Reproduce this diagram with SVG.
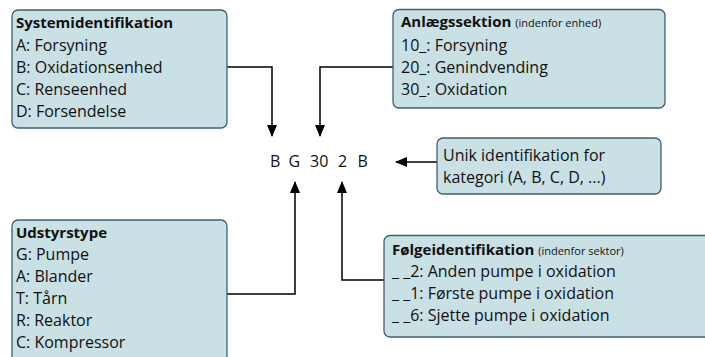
<svg xmlns="http://www.w3.org/2000/svg" width="705" height="357" viewBox="0 0 705 357">
<defs>
<marker id="ah" viewBox="0 0 12 10" refX="11" refY="5" markerWidth="12" markerHeight="10" markerUnits="userSpaceOnUse" orient="auto">
<path d="M0,0 L12,5 L0,10 Z" fill="#000"/>
</marker>
<style>
.box{fill:#c9e0e4;stroke:#3f5f72;stroke-width:1.3}
.t{font-family:"Open Sans","Noto Sans",sans-serif;font-size:16px;fill:#111}
.b{font-weight:bold;font-size:15px}
.s{font-size:11px;font-weight:normal}
.c{fill:none;stroke:#000;stroke-width:1.5}
</style>
</defs>
<rect width="705" height="357" fill="#fff"/>
<g id="connectors">
<path class="c" d="M227,67 H272 V136" marker-end="url(#ah)"/>
<path class="c" d="M393,67 H320 V136" marker-end="url(#ah)"/>
<path class="c" d="M437,162 H396" marker-end="url(#ah)"/>
<path class="c" d="M227,294 H295 V182" marker-end="url(#ah)"/>
<path class="c" d="M384,280 H342 V182" marker-end="url(#ah)"/>
</g>
<g id="system">
<rect class="box" x="12" y="10" width="215" height="118" rx="6"/>
<text class="t b" x="16" y="27.5">Systemidentifikation</text>
<text class="t" x="16" y="51">A: Forsyning</text>
<text class="t" x="16" y="73">B: Oxidationsenhed</text>
<text class="t" x="16" y="95">C: Renseenhed</text>
<text class="t" x="16" y="117">D: Forsendelse</text>
</g>
<g id="anlaeg">
<rect class="box" x="393" y="9.5" width="272" height="98.5" rx="6"/>
<text class="t b" x="401" y="27">Anlægssektion <tspan class="s">(indenfor enhed)</tspan></text>
<text class="t" x="401" y="50.5">10_: Forsyning</text>
<text class="t" x="401" y="72.5">20_: Genindvending</text>
<text class="t" x="401" y="94.5">30_: Oxidation</text>
</g>
<g id="code">
<text class="t" x="270" y="166.5">B</text>
<text class="t" x="288.5" y="166.5">G</text>
<text class="t" x="310" y="166.5">30</text>
<text class="t" x="338" y="166.5">2</text>
<text class="t" x="357.5" y="166.5">B</text>
</g>
<g id="unik">
<rect class="box" x="437" y="138" width="224" height="56" rx="6"/>
<text class="t" x="443" y="161">Unik identifikation for</text>
<text class="t" x="443" y="183">kategori (A, B, C, D, ...)</text>
</g>
<g id="udstyr">
<rect class="box" x="12" y="220" width="215" height="150" rx="6"/>
<text class="t b" x="16" y="238">Udstyrstype</text>
<text class="t" x="16" y="260">G: Pumpe</text>
<text class="t" x="16" y="282">A: Blander</text>
<text class="t" x="16" y="304">T: Tårn</text>
<text class="t" x="16" y="326">R: Reaktor</text>
<text class="t" x="16" y="348">C: Kompressor</text>
</g>
<g id="foelge">
<rect class="box" x="384" y="235.5" width="340" height="101.5" rx="6"/>
<text class="t b" x="392" y="255">Følgeidentifikation <tspan class="s">(indenfor sektor)</tspan></text>
<text class="t" x="392" y="277">_ _2: Anden pumpe i oxidation</text>
<text class="t" x="392" y="299">_ _1: Første pumpe i oxidation</text>
<text class="t" x="392" y="321">_ _6: Sjette pumpe i oxidation</text>
</g>
</svg>
